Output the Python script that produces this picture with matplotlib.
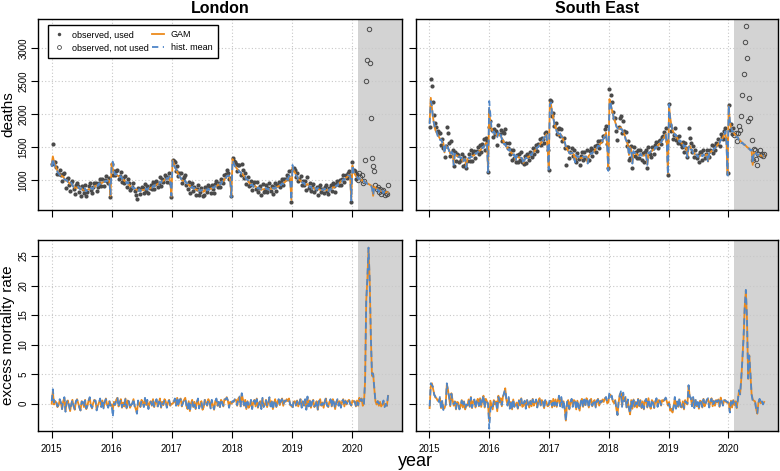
import numpy as np
import pandas as pd
import matplotlib
matplotlib.use("Agg")
import matplotlib.pyplot as plt
from matplotlib.lines import Line2D

plt.rcParams["font.family"] = ["Liberation Sans", "DejaVu Sans"]

# weekly deaths, first week ending 2015-01-02
london_obs = [
    # 2015
    1240, 1550, 1270, 1270, 1200, 1090, 1090, 1150, 1080, 980, 1090, 1110, 880, 1020, 1030, 930, 830, 950,
    980, 860, 790, 920, 950, 910, 820, 760, 910, 870, 800, 920, 760, 820, 910, 950, 850, 800, 890, 960,
    950, 830, 890, 960, 1020, 910, 1010, 910, 1000, 1060, 980, 950, 1030, 750,
    # 2016
    1240, 1080, 1140, 1070, 1140, 1160, 1020, 1060, 1120, 970, 1030, 950, 1060, 890, 1010, 960, 850, 880,
    900, 950, 840, 780, 710, 880, 860, 790, 900, 880, 810, 940, 840, 910, 800, 880, 920, 860, 970, 860,
    940, 990, 900, 960, 1040, 910, 1010, 970, 1070, 1050, 970, 1050, 1100, 950, 750,
    # 2017
    1300, 1290, 1270, 1140, 1210, 1060, 1110, 1110, 960, 1010, 1040, 1070, 930, 860, 970, 800, 910, 950,
    830, 900, 780, 870, 920, 780, 820, 880, 760, 770, 900, 870, 820, 930, 890, 810, 920, 860, 800, 940,
    980, 890, 950, 890, 1010, 1000, 950, 1080, 1090, 1150, 1110, 1010, 1030, 760,
    # 2018
    1340, 1290, 1280, 1250, 1140, 1230, 1230, 1070, 1250, 1150, 1030, 1100, 940, 1040, 910, 920, 980, 850,
    930, 970, 860, 970, 820, 880, 910, 780, 940, 820, 850, 930, 820, 880, 950, 840, 910, 790, 890, 950,
    840, 930, 970, 900, 970, 1020, 920, 1010, 1010, 1070, 1060, 1130, 1000, 670,
    # 2019
    1150, 1180, 1160, 1050, 1100, 980, 1020, 1060, 920, 990, 930, 990, 850, 1040, 880, 950, 830, 900,
    940, 820, 860, 900, 780, 890, 920, 820, 870, 800, 900, 930, 830, 790, 880, 920, 830, 960, 910, 820,
    940, 980, 920, 1000, 930, 1020, 1070, 970, 1080, 1030, 1100, 1140, 1060, 670,
    # 2020
    1270, 1160, 1130, 1020, 1090, 1000, 1110, 1050, 1080, 960, 990, 1300, 2510, 2830, 3290, 2780, 1950,
    1330, 1220, 1130, 920, 860, 900, 820, 870, 790, 830, 850, 780, 800, 790, 930,
]
london_gam = [
    1240, 1360, 1280, 1230, 1180, 1140, 1110, 1090, 1070, 1060, 1050, 1020, 990, 1000, 980, 960, 940, 950,
    920, 900, 880, 890, 880, 900, 880, 860, 870, 850, 850, 860, 840, 850, 860, 860, 870, 870, 880, 900,
    910, 920, 920, 940, 950, 950, 960, 970, 980, 980, 990, 1000, 990, 760,
    1250, 1170, 1110, 1090, 1080, 1070, 1060, 1050, 1050, 1030, 1010, 990, 980, 960, 960, 930, 910, 900,
    890, 880, 870, 860, 850, 840, 850, 840, 840, 850, 850, 860, 860, 860, 870, 870, 880, 890, 900, 910,
    920, 930, 940, 950, 960, 970, 980, 990, 1000, 1010, 1020, 1030, 1040, 980, 750,
    1300, 1260, 1200, 1160, 1120, 1090, 1060, 1030, 1000, 990, 980, 980, 960, 940, 930, 910, 900, 890,
    880, 870, 860, 850, 850, 840, 840, 840, 850, 820, 840, 850, 850, 860, 860, 870, 870, 880, 890, 900,
    910, 920, 930, 940, 950, 970, 990, 1010, 1030, 1050, 1070, 1060, 1000, 760,
    1320, 1250, 1220, 1190, 1170, 1150, 1130, 1110, 1100, 1080, 1060, 1040, 1020, 1000, 970, 950, 930, 920,
    910, 910, 900, 890, 880, 870, 870, 850, 860, 860, 870, 870, 870, 860, 860, 870, 870, 870, 880, 880,
    890, 900, 910, 920, 930, 940, 950, 960, 980, 1000, 1020, 1050, 1020, 700,
    1200, 1150, 1120, 1080, 1050, 1020, 1000, 990, 970, 960, 950, 930, 930, 940, 910, 900, 890, 880,
    880, 870, 870, 860, 870, 860, 850, 850, 850, 860, 860, 850, 850, 840, 850, 860, 870, 890, 890, 900,
    910, 920, 940, 960, 980, 990, 1000, 1010, 1030, 1040, 1060, 1080, 1050, 700,
    1220, 1130, 1090, 1060, 1040, 1030, 1020, 1010, 1000, 990, 980, 970, 960, 950, 940, 930, 920, 910,
    760, 900, 880, 870, 860, 850, 840, 830, 840, 820, 820, 810, 820, 810,
]
london_hist = [
    1200, 1330, 1250, 1200, 1160, 1130, 1100, 1080, 1060, 1060, 1040, 1010, 1000, 1000, 970, 950, 930, 960,
    920, 890, 870, 880, 890, 900, 870, 860, 880, 840, 850, 870, 830, 850, 870, 850, 880, 860, 880, 910,
    900, 930, 910, 950, 940, 960, 950, 980, 970, 990, 980, 1010, 980, 780,
    1240, 1280, 1140, 1080, 1090, 1060, 1070, 1040, 1060, 1020, 1020, 980, 990, 950, 970, 920, 920, 890,
    900, 870, 880, 850, 860, 830, 860, 830, 850, 840, 860, 850, 870, 850, 880, 860, 890, 880, 910, 900,
    930, 920, 950, 940, 970, 960, 990, 980, 1010, 1000, 1030, 1020, 1050, 970, 760,
    1290, 1270, 1190, 1170, 1110, 1100, 1050, 1040, 990, 1000, 970, 990, 950, 950, 920, 920, 890, 900,
    870, 880, 850, 860, 840, 850, 830, 850, 840, 830, 830, 860, 840, 870, 850, 880, 860, 890, 880, 910,
    900, 930, 920, 950, 940, 980, 980, 1020, 1020, 1060, 1060, 1070, 990, 740,
    1300, 1260, 1210, 1200, 1160, 1160, 1120, 1120, 1090, 1090, 1050, 1050, 1010, 1010, 960, 960, 920, 930,
    900, 920, 890, 900, 870, 880, 860, 860, 850, 870, 860, 880, 860, 870, 850, 880, 860, 880, 870, 890,
    880, 910, 900, 930, 920, 950, 940, 970, 970, 1010, 1010, 1060, 1010, 690,
    1230, 1140, 1130, 1070, 1060, 1010, 1010, 980, 980, 950, 960, 920, 940, 930, 920, 890, 900, 870,
    890, 860, 880, 850, 880, 850, 860, 840, 860, 850, 870, 840, 860, 830, 860, 850, 880, 880, 900, 890,
    920, 910, 950, 950, 990, 980, 1010, 1000, 1040, 1030, 1070, 1070, 1060, 690,
    1230, 1120, 1100, 1050, 1050, 1020, 1030, 1000, 1010, 980, 990, 960, 960, 940, 940, 910, 920, 880,
    770, 890, 880, 850, 860, 820, 850, 810, 840, 800, 830, 800, 820, 800,
]

se_obs = [
    1810, 2530, 2430, 2190, 1990, 1860, 1810, 1740, 1710, 1720, 1530, 1630, 1480, 1350, 1510, 1810, 1710, 1560,
    1360, 1590, 1460, 1220, 1430, 1290, 1400, 1380, 1270, 1300, 1390, 1220, 1350, 1230, 1180, 1290, 1400, 1290,
    1460, 1290, 1410, 1440, 1340, 1440, 1500, 1400, 1540, 1420, 1550, 1630, 1460, 1640, 1600, 1120,
    1800, 1900, 1760, 1650, 1780, 1700, 1740, 1540, 1830, 1700, 1760, 1600, 1730, 1720, 1780, 1570, 1480, 1560,
    1390, 1450, 1310, 1460, 1340, 1280, 1380, 1270, 1400, 1310, 1420, 1280, 1240, 1360, 1260, 1400, 1360, 1300,
    1430, 1350, 1490, 1400, 1470, 1530, 1440, 1550, 1620, 1530, 1640, 1630, 1570, 1720, 1730, 1460, 1150,
    2220, 2200, 1970, 2020, 1820, 1870, 1700, 1770, 1790, 1670, 1770, 1590, 1640, 1490, 1230, 1500, 1500, 1330,
    1430, 1490, 1360, 1450, 1320, 1280, 1410, 1320, 1230, 1370, 1420, 1300, 1420, 1330, 1450, 1300, 1310, 1440,
    1480, 1370, 1460, 1510, 1420, 1530, 1590, 1490, 1600, 1590, 1670, 1670, 1770, 1820, 1550, 1180,
    2380, 2290, 2190, 2040, 1950, 1940, 1750, 1610, 1800, 1940, 1970, 1720, 1890, 1750, 1730, 1520, 1590, 1300,
    1330, 1520, 1180, 1500, 1370, 1430, 1330, 1460, 1340, 1450, 1310, 1410, 1280, 1430, 1460, 1180, 1500, 1390,
    1350, 1500, 1490, 1400, 1530, 1580, 1480, 1600, 1610, 1550, 1660, 1670, 1730, 1790, 1600, 1070,
    2150, 1840, 1750, 1620, 1690, 1790, 1610, 1660, 1560, 1670, 1550, 1500, 1580, 1430, 1560, 1490, 1350, 1790,
    1640, 1560, 1420, 1520, 1350, 1450, 1340, 1380, 1280, 1420, 1420, 1310, 1460, 1330, 1400, 1450, 1360, 1350,
    1450, 1530, 1410, 1520, 1460, 1560, 1550, 1620, 1520, 1700, 1650, 1630, 1740, 1790, 1620, 1100,
    2140, 1760, 1850, 1700, 1790, 1680, 1720, 1590, 1710, 1820, 1760, 1980, 2290, 2610, 3090, 3340, 2860,
    1890, 2250, 1940, 1610, 1300, 1470, 1450, 1320, 1230, 1400, 1450, 1380, 1400, 1360, 1400,
]
se_gam = [
    1880, 2250, 2100, 1950, 1830, 1760, 1720, 1690, 1660, 1630, 1600, 1590, 1560, 1420, 1520, 1500, 1480, 1460,
    1400, 1420, 1400, 1250, 1390, 1380, 1370, 1360, 1350, 1340, 1330, 1280, 1310, 1320, 1200, 1320, 1330, 1340,
    1350, 1360, 1370, 1380, 1400, 1410, 1420, 1440, 1450, 1470, 1490, 1500, 1520, 1560, 1560, 1150,
    2080, 1850, 1780, 1740, 1720, 1710, 1700, 1660, 1700, 1680, 1670, 1640, 1610, 1560, 1530, 1510, 1490, 1470,
    1450, 1420, 1400, 1390, 1380, 1300, 1360, 1350, 1340, 1340, 1330, 1330, 1260, 1320, 1330, 1340, 1350, 1360,
    1380, 1390, 1410, 1430, 1450, 1470, 1490, 1510, 1530, 1560, 1580, 1610, 1640, 1670, 1700, 1500, 1180,
    2180, 2150, 2030, 1940, 1860, 1800, 1750, 1710, 1680, 1700, 1680, 1640, 1600, 1570, 1500, 1480, 1440, 1420,
    1400, 1420, 1400, 1390, 1280, 1370, 1360, 1350, 1340, 1330, 1340, 1350, 1360, 1350, 1360, 1260, 1370, 1390,
    1400, 1410, 1430, 1450, 1470, 1490, 1510, 1520, 1550, 1570, 1600, 1640, 1680, 1720, 1540, 1160,
    2230, 2150, 2080, 2000, 1940, 1880, 1830, 1790, 1780, 1790, 1800, 1760, 1740, 1700, 1640, 1580, 1540, 1380,
    1500, 1460, 1260, 1430, 1420, 1400, 1390, 1380, 1380, 1390, 1380, 1370, 1370, 1380, 1390, 1240, 1410, 1420,
    1430, 1440, 1460, 1470, 1490, 1500, 1520, 1540, 1560, 1580, 1600, 1630, 1660, 1700, 1560, 1100,
    2120, 1950, 1830, 1760, 1720, 1700, 1670, 1640, 1610, 1600, 1580, 1560, 1540, 1520, 1500, 1480, 1360, 1500,
    1520, 1480, 1450, 1430, 1400, 1390, 1380, 1370, 1360, 1370, 1380, 1370, 1380, 1370, 1380, 1390, 1280, 1400,
    1420, 1440, 1450, 1470, 1490, 1500, 1530, 1550, 1570, 1600, 1620, 1650, 1690, 1730, 1600, 1080,
    2120, 1880, 1800, 1760, 1730, 1700, 1680, 1660, 1640, 1620, 1600, 1580, 1560, 1550, 1530, 1520, 1500,
    1490, 1470, 1460, 1450, 1230, 1420, 1410, 1400, 1390, 1380, 1380, 1370, 1370, 1360, 1370,
]
se_hist = [
    1850, 2200, 2130, 1920, 1850, 1740, 1740, 1670, 1680, 1610, 1620, 1570, 1580, 1400, 1540, 1480, 1500, 1440,
    1380, 1430, 1410, 1230, 1400, 1370, 1380, 1350, 1360, 1330, 1340, 1270, 1320, 1310, 1190, 1310, 1340, 1330,
    1360, 1350, 1380, 1370, 1410, 1400, 1430, 1430, 1460, 1460, 1500, 1490, 1530, 1570, 1550, 1120,
    2200, 2000, 1790, 1720, 1740, 1700, 1710, 1650, 1720, 1660, 1690, 1620, 1630, 1540, 1550, 1490, 1510, 1450,
    1470, 1400, 1410, 1380, 1390, 1280, 1370, 1340, 1350, 1330, 1340, 1320, 1240, 1310, 1340, 1330, 1360, 1350,
    1390, 1380, 1420, 1420, 1460, 1460, 1500, 1500, 1540, 1550, 1590, 1600, 1650, 1660, 1710, 1480, 1160,
    2150, 2180, 2000, 1960, 1840, 1810, 1730, 1720, 1660, 1710, 1660, 1650, 1580, 1580, 1510, 1470, 1450, 1410,
    1410, 1410, 1410, 1380, 1270, 1380, 1350, 1360, 1330, 1340, 1330, 1360, 1350, 1360, 1350, 1250, 1380, 1380,
    1410, 1400, 1440, 1440, 1480, 1480, 1520, 1510, 1560, 1560, 1610, 1630, 1690, 1710, 1520, 1140,
    2200, 2180, 2060, 2010, 1920, 1890, 1810, 1790, 1760, 1800, 1770, 1770, 1710, 1710, 1620, 1590, 1520, 1370,
    1490, 1470, 1250, 1440, 1410, 1410, 1380, 1390, 1370, 1400, 1370, 1380, 1360, 1390, 1380, 1230, 1420, 1410,
    1440, 1430, 1470, 1460, 1500, 1490, 1530, 1530, 1570, 1570, 1610, 1620, 1670, 1690, 1540, 1080,
    2150, 1920, 1850, 1740, 1740, 1680, 1690, 1620, 1630, 1580, 1600, 1540, 1560, 1500, 1520, 1460, 1350, 1490,
    1530, 1460, 1460, 1410, 1420, 1370, 1390, 1350, 1370, 1350, 1390, 1360, 1390, 1360, 1390, 1380, 1270, 1410,
    1410, 1450, 1440, 1480, 1480, 1510, 1520, 1560, 1560, 1610, 1610, 1660, 1680, 1740, 1580, 1070,
    2140, 1900, 1820, 1740, 1740, 1690, 1690, 1650, 1650, 1600, 1610, 1560, 1570, 1540, 1540, 1510, 1510,
    1480, 1480, 1450, 1460, 1250, 1430, 1400, 1410, 1380, 1390, 1370, 1380, 1360, 1370, 1360,
]

regions = ["London", "South East"]
population = {"London": 8.9e6, "South East": 9.5e6}
cutoff = 2020.1  # start of the period not used for fitting

series = {
    "London": (london_obs, london_gam, london_hist),
    "South East": (se_obs, se_gam, se_hist),
}

weeks = pd.date_range("2015-01-02", periods=len(london_obs), freq="7D")
t = np.asarray(weeks.year + (weeks.dayofyear - 1) / np.where(weeks.is_leap_year, 366, 365))

orange = "#EC8A1C"
blue = "#4F86C8"
pt_col = "#4a4a4a"
shade = "#D3D3D3"
xlim = (2014.775, 2020.83)

fig = plt.figure(figsize=(7.8, 4.71), dpi=100)
W, H = 780, 471
boxes = {
    (0, 0): [38, 19, 364], (0, 1): [416, 19, 362],
    (1, 0): [38, 240, 364], (1, 1): [416, 240, 362],
}
axs = {}
for (r, c), (x0, y0, w) in boxes.items():
    axs[(r, c)] = fig.add_axes([x0 / W, 1 - (y0 + 191) / H, w / W, 191 / H])


def style(ax, ylim, yticks, xlabels, ylabels):
    ax.set_xlim(*xlim)
    ax.set_ylim(*ylim)
    ax.set_xticks(range(2015, 2021))
    ax.set_yticks(yticks)
    ax.grid(True, color="#C8C8C8", ls=(0, (1, 2)), lw=0.8, zorder=0)
    ax.axvspan(cutoff, xlim[1], color=shade, lw=0, zorder=1)
    for s in ax.spines.values():
        s.set_linewidth(1.0)
    ax.tick_params(direction="out", length=5, width=0.8, labelsize=7, colors="black")
    ax.tick_params(axis="y", labelrotation=90, pad=2)
    ax.tick_params(axis="x", pad=4)
    if not xlabels:
        ax.set_xticklabels([])
    if ylabels:
        for lab in ax.get_yticklabels():
            lab.set_va("center")
    else:
        ax.set_yticklabels([])


for c, reg in enumerate(regions):
    obs, gam, hist = (np.array(s, dtype=float) for s in series[reg])
    used = t < cutoff

    ax = axs[(0, c)]
    style(ax, (545, 3447), [1000, 1500, 2000, 2500, 3000], False, c == 0)
    ax.plot(t[used], obs[used], "o", ms=3, color=pt_col, mec="none", zorder=2)
    ax.plot(t[~used], obs[~used], "o", ms=3.2, mfc="none", mec=pt_col, mew=0.7, zorder=2)
    ax.plot(t, gam, color=orange, lw=1.3, zorder=3)
    ax.plot(t, hist, color=blue, lw=1.3, ls=(0, (3.5, 2.5)), zorder=4)
    ax.set_title(reg, fontsize=11.5, fontweight="bold", pad=4)

    ax = axs[(1, c)]
    style(ax, (-4.6, 27.7), [0, 5, 10, 15, 20, 25], True, c == 0)
    ax.plot(t, (obs - gam) / population[reg] * 1e5, color=orange, lw=1.3, zorder=3)
    ax.plot(t, (obs - hist) / population[reg] * 1e5, color=blue, lw=1.3,
            ls=(0, (3.5, 2.5)), zorder=4)

handles = [
    Line2D([], [], ls="none", marker="o", ms=2.5, color=pt_col, mec="none"),
    Line2D([], [], ls="none", marker="o", ms=2.8, mfc="none", mec=pt_col, mew=0.6),
    Line2D([], [], color=orange, lw=1.3),
    Line2D([], [], color=blue, lw=1.3, ls=(0, (3.5, 2.5))),
]
labels = ["observed, used", "observed, not used", "GAM", "hist. mean"]
leg = axs[(0, 0)].legend(handles, labels, ncol=2, loc="upper left",
                         bbox_to_anchor=(0.027, 0.969), borderaxespad=0,
                         fontsize=6.5, frameon=True, fancybox=False,
                         edgecolor="black", framealpha=1, handlelength=1.3,
                         columnspacing=0.3, handletextpad=0.8, borderpad=0.6,
                         labelspacing=0.45)
leg.get_frame().set_linewidth(1.0)
leg.set_zorder(10)

fig.text(8 / W, 1 - 114.5 / H, "deaths", rotation=90, ha="center", va="center", fontsize=11)
fig.text(8 / W, 1 - 335.5 / H, "excess mortality rate", rotation=90, ha="center",
         va="center", fontsize=11)
fig.text(415 / W, 1 - 461 / H, "year", ha="center", va="center", fontsize=13)

fig.savefig("out.png", dpi=100)
